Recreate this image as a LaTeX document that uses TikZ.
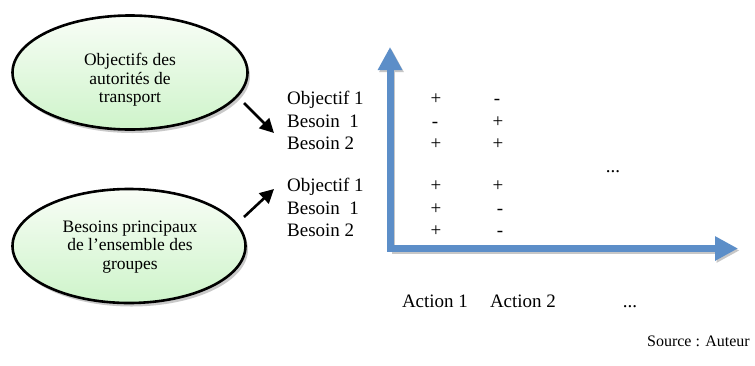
\documentclass[tikz,border=0pt]{standalone}
\usepackage{fontspec}
\setmainfont{Liberation Serif}
\usetikzlibrary{arrows.meta,shadows,shapes.geometric,calc}
\definecolor{axisblue}{RGB}{92,142,200}
\definecolor{mintlo}{RGB}{206,244,202}
\definecolor{minthi}{RGB}{248,253,246}
\tikzset{
  bubble/.style={ellipse,draw=black,line width=2.6pt,inner sep=0pt,
    top color=minthi,bottom color=mintlo,
    drop shadow={shadow xshift=2.5pt,shadow yshift=-3.5pt,opacity=0.35,fill=black!60}},
  bubbletxt/.style={align=center,inner sep=0pt,font=\fontsize{17.5}{18.5}\selectfont},
  rowtxt/.style={anchor=base west,inner sep=0pt,font=\fontsize{19}{22}\selectfont},
  sign/.style={anchor=base,inner sep=0pt,font=\fontsize{19}{22}\selectfont},
  blk/.style={line width=2.6pt,-{Triangle[length=14pt,width=14pt]}},
  axis/.style={line width=7pt,axisblue,-{Triangle[length=23pt,width=23pt]}},
  axisshadow/.style={line width=7pt,black!22,-{Triangle[length=23pt,width=23pt]}},
}
\begin{document}
\begin{tikzpicture}[x=1pt,y=-1pt]
\useasboundingbox (0,0) rectangle (755,365);
\fill[white] (0,0) rectangle (755,365);
% ellipses
\node[bubble,minimum width=235pt,minimum height=114pt] (e1) at (130,72.5) {};
\node[bubbletxt] (t1) at (130,80) {Objectifs des\\autorités de\\transport};
\node[bubble,minimum width=233pt,minimum height=114pt] (e2) at (129,246) {};
\node[bubbletxt] (t2) at (130,247) {Besoins principaux\\de l’ensemble des\\groupes};
% arrows
\coordinate (a1s) at (244,103);
\coordinate (a1e) at (274,133);
\coordinate (a2s) at (244,217);
\coordinate (a2e) at (274,189);
\draw[blk] (a1s) -- (a1e);
\draw[blk] (a2s) -- (a2e);
% rows
\node[rowtxt] (r1) at (287,104) {Objectif 1};
\node[rowtxt] (r2) at (287,127) {Besoin\ \ 1};
\node[rowtxt] (r3) at (287,149) {Besoin 2};
\node[rowtxt] (r4) at (287,191) {Objectif 1};
\node[rowtxt] (r5) at (287,214) {Besoin\ \ 1};
\node[rowtxt] (r6) at (287,236) {Besoin 2};
% signs
\node[sign] (s11) at (436,104) {+};
\node[sign] (s12) at (497,104) {-};
\node[sign] (s21) at (435,127) {-};
\node[sign] (s22) at (498,127) {+};
\node[sign] (s31) at (436,149) {+};
\node[sign] (s32) at (498,149) {+};
\node[sign] (s41) at (436,191) {+};
\node[sign] (s42) at (498,191) {+};
\node[sign] (s51) at (436,214) {+};
\node[sign] (s52) at (500,214) {-};
\node[sign] (s61) at (436,236) {+};
\node[sign] (s62) at (500,236) {-};
\node[sign] (dots1) at (613,172) {...};
% axes
\coordinate (o) at (390,248.5);
\coordinate (ytip) at (390,47);
\coordinate (xtip) at (738,248.5);
\coordinate (os) at (391.5,250.5);
\coordinate (ytips) at (391.5,49);
\coordinate (xtips) at (739.5,250.5);
\draw[axisshadow] (os) -- (ytips);
\draw[axisshadow] (os) -- (xtips);
\draw[axis] (o) -- (ytip);
\draw[axis] (o) -- (xtip);
\fill[axisblue] ($(o)+(-3.5,3.5)$) rectangle ($(o)+(3.5,-3.5)$);
% labels
\node[sign] (act1) at (435,307) {Action 1};
\node[sign] (act2) at (523,307) {Action 2};
\node[sign] (dots2) at (630,307) {...};
\node[inner sep=0pt,font=\fontsize{16}{18}\selectfont,anchor=base east] (src) at (750,346) {Source : Auteur};
\end{tikzpicture}
\end{document}
